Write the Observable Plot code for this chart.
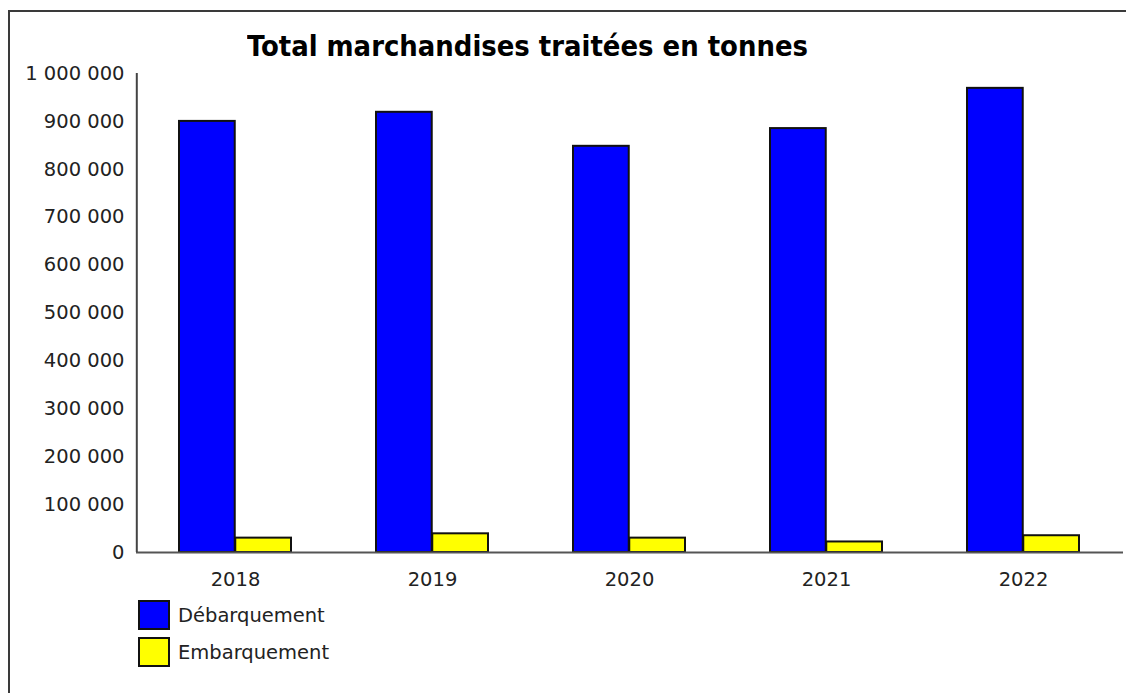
<!DOCTYPE html>
<html>
<head>
<meta charset="utf-8">
<script src="https://cdn.jsdelivr.net/npm/d3@7"></script>
<script src="https://cdn.jsdelivr.net/npm/@observablehq/plot@0.6"></script>
<style>
  html, body { margin: 0; padding: 0; background: #fff; overflow: hidden; }
  body { width: 1126px; height: 693px; position: relative; font-family: "DejaVu Sans", sans-serif; color: #222; }
  #frame { position: absolute; left: 8px; top: 10px; width: 2000px; height: 2000px;
           border-left: 2px solid #3a3a3a; border-top: 2px solid #3a3a3a; box-sizing: border-box; pointer-events: none; }
  #titlebar { position: relative; height: 62px; }
  #title { position: absolute; left: 247px; top: 32px; font-family: "DejaVu Sans Condensed", "DejaVu Sans", sans-serif;
           font-weight: bold; font-size: 29px; line-height: 1; color: #000; white-space: nowrap; transform-origin: 0 0; }
  #chart svg { display: block; }
  #legend { position: relative; height: 93px; }
  .item { position: absolute; left: 138px; display: flex; align-items: center; font-size: 19.5px; color: #222; }
  .sw { width: 32px; height: 30px; box-sizing: border-box; border: 2px solid #111; margin-right: 8px; }
</style>
</head>
<body>
<div id="frame"></div>
<div id="titlebar"><div id="title">Total marchandises traitées en tonnes</div></div>
<div id="chart"></div>
<div id="legend"></div>
<script>
const years = ["2018", "2019", "2020", "2021", "2022"];
const seriesNames = ["Débarquement", "Embarquement"];
const debarquement = [900000, 919000, 848000, 885000, 969000];
const embarquement = [30000, 39000, 30000, 22000, 35000];
const colors = ["#0000ff", "#ffff00"];
const yTicks = [0, 100000, 200000, 300000, 400000, 500000, 600000, 700000, 800000, 900000, 1000000];

const rows = [];
years.forEach((yr, i) => {
  rows.push({year: yr, serie: seriesNames[0], value: debarquement[i]});
  rows.push({year: yr, serie: seriesNames[1], value: embarquement[i]});
});

const W = 1126, H = 538, ML = 136, MR = 3, MT = 11, MB = 48;
const pInner = 0.43, pOuter = pInner / 2;
const step = (W - ML - MR) / years.length;
const bw = step * (1 - pInner);
const fmt = d3.formatLocale({decimal: ",", thousands: " ", grouping: [3], currency: ["", " €"]}).format(",d");

const plot = Plot.plot({
  width: W, height: H,
  marginLeft: ML, marginRight: MR, marginTop: MT, marginBottom: MB,
  style: {fontFamily: "DejaVu Sans, sans-serif", fontSize: "19.5px", color: "#222", background: "transparent", overflow: "visible"},
  x: {type: "band", domain: years, paddingInner: pInner, paddingOuter: pOuter, tickSize: 0, tickPadding: 20, label: null},
  y: {domain: [0, 1000000], ticks: yTicks, tickSize: 0, tickPadding: 12, tickFormat: fmt, label: null},
  marks: [
    Plot.barY(rows.filter(d => d.serie === seriesNames[0]), {x: "year", y: "value", fill: colors[0], stroke: "#111", strokeWidth: 2, insetRight: bw / 2}),
    Plot.barY(rows.filter(d => d.serie === seriesNames[1]), {x: "year", y: "value", fill: colors[1], stroke: "#111", strokeWidth: 2, insetLeft: bw / 2}),
    Plot.ruleY([0], {stroke: "#555", strokeWidth: 2}),
    Plot.ruleX([years[0]], {x: d => d, y1: 0, y2: 1000000, dx: -step / 2, stroke: "#444", strokeWidth: 2})
  ]
});
document.getElementById("chart").appendChild(plot);

// legend
const legend = document.getElementById("legend");
seriesNames.forEach((name, i) => {
  const it = document.createElement("div");
  it.className = "item";
  it.style.top = (i * 37) + "px";
  const sw = document.createElement("div");
  sw.className = "sw";
  sw.style.background = colors[i];
  const tx = document.createElement("span");
  tx.textContent = name;
  it.appendChild(sw); it.appendChild(tx);
  legend.appendChild(it);
});

// fit title width
const t = document.getElementById("title");
const w = t.getBoundingClientRect().width;
t.style.transform = `scaleX(${561 / w})`;
</script>
</body>
</html>
